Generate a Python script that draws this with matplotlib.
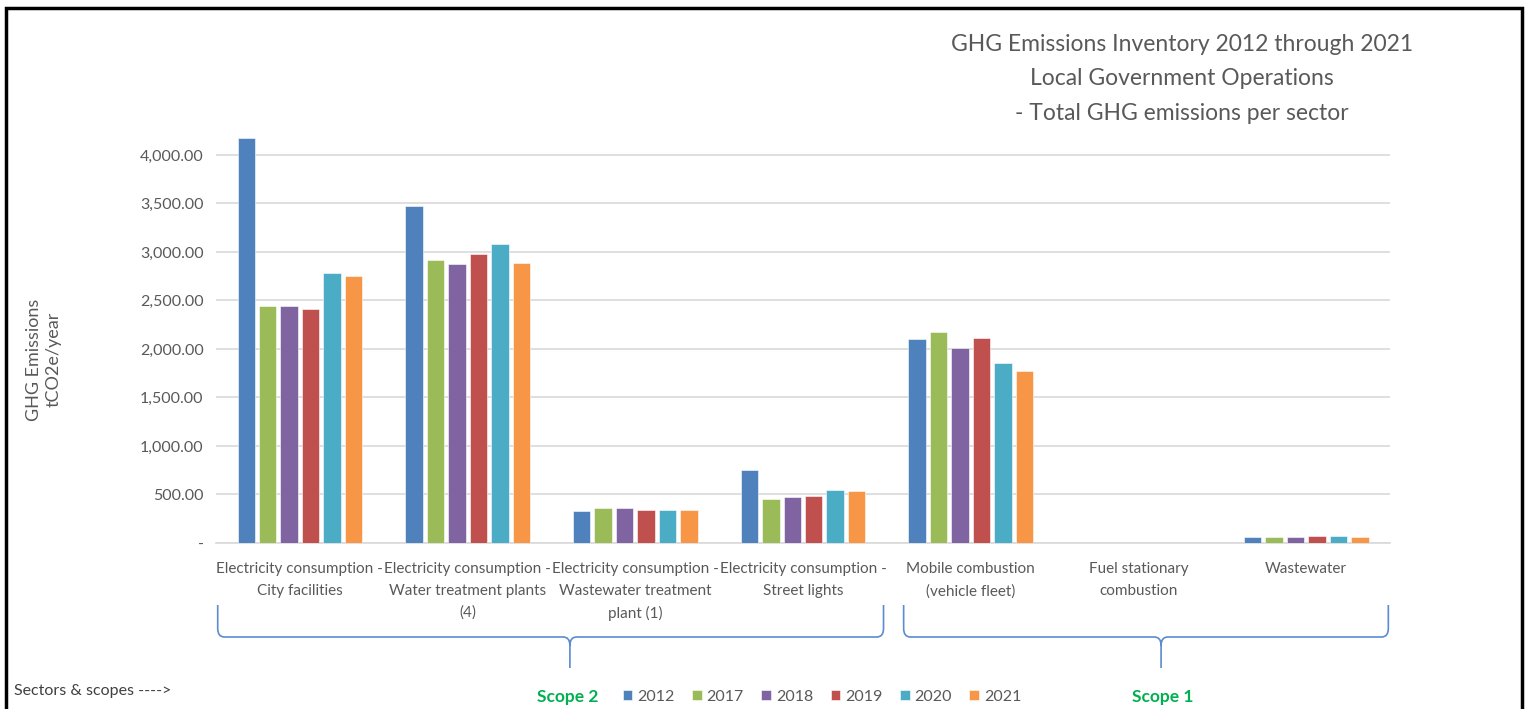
"""
GHG emissions per sector, local government operations (2012-2021)
"""
import numpy as np
import matplotlib
matplotlib.use("Agg")
import matplotlib.pyplot as plt
from matplotlib.path import Path
from matplotlib.patches import PathPatch, Rectangle
from matplotlib.ticker import FuncFormatter
import matplotlib.transforms as mtransforms

plt.rcParams['font.family'] = ['Lato', 'DejaVu Sans']

# ------------------------------------------------------------
# data (tCO2e/year)
# ------------------------------------------------------------
sectors = [
    "Electricity consumption -\nCity facilities",
    "Electricity consumption -\nWater treatment plants\n(4)",
    "Electricity consumption -\nWastewater treatment\nplant (1)",
    "Electricity consumption -\nStreet lights",
    "Mobile combustion\n(vehicle fleet)",
    "Fuel stationary\ncombustion",
    "Wastewater",
]
years = ["2012", "2017", "2018", "2019", "2020", "2021"]

y2012 = [4175, 3474, 330, 753, 2103, 0, 60]
y2017 = [2443, 2918, 361, 454, 2175, 0, 60]
y2018 = [2443, 2876, 361, 474, 2010, 0, 58]
y2019 = [2412, 2980, 340, 485, 2113, 0, 70]
y2020 = [2783, 3083, 340, 546, 1856, 0, 70]
y2021 = [2753, 2887, 340, 536, 1773, 0, 58]
series = [y2012, y2017, y2018, y2019, y2020, y2021]

colors = ["#4F81BD", "#9BBB59", "#8064A2", "#C0504D", "#4BACC6", "#F79646"]
text_gray = "#595959"
brace_blue = "#5B8BD0"
scope_green = "#00B050"

# ------------------------------------------------------------
# figure
# ------------------------------------------------------------
fig = plt.figure(figsize=(15.3, 7.09), dpi=100)
ax = fig.add_axes([0.1412, 0.2342, 0.9085 - 0.1412, 0.8498 - 0.2342])

x = np.arange(len(sectors))
slot = 0.128
width = 0.104
for i, (vals, yr, c) in enumerate(zip(series, years, colors)):
    offs = (i - (len(series) - 1) / 2) * slot
    ax.bar(x + offs, vals, width, color=c, label=yr,
           edgecolor="white", linewidth=0.4, zorder=3)

ax.set_xlim(-0.5, len(sectors) - 0.5)
ax.set_ylim(0, 4500)
ax.set_yticks(np.arange(0, 4001, 500))
ax.yaxis.set_major_formatter(FuncFormatter(lambda v, p: "-" if v == 0 else f"{v:,.2f}"))
ax.grid(axis="y", color="#D9D9D9", linewidth=1.2, zorder=0)
ax.set_axisbelow(True)
for s in ["top", "right", "left"]:
    ax.spines[s].set_visible(False)
ax.spines["bottom"].set_color("#D9D9D9")
ax.spines["bottom"].set_linewidth(1.2)
ax.tick_params(axis="both", length=0, colors=text_gray, labelsize=11.5)
ax.tick_params(axis="y", pad=9)
ax.tick_params(axis="x", pad=14)
ax.set_xticks(x)
ax.set_xticklabels(sectors, color=text_gray, fontsize=11, linespacing=1.68, va="top")

ax.set_ylabel("GHG Emissions\ntCO2e/year", color=text_gray, fontsize=13,
              linespacing=1.2)
ax.yaxis.set_label_coords(-0.132, 0.42)

# title
fig.text(0.7725, 0.952, "GHG Emissions Inventory 2012 through 2021\nLocal Government Operations\n- Total GHG emissions per sector",
         ha="center", va="top", color=text_gray, fontsize=16.5, linespacing=1.78)

# braces under the category labels
trans = mtransforms.blended_transform_factory(ax.transData, fig.transFigure)


def brace(x0, x1, xc):
    yt, ym, yp = 1 - 605 / 709, 1 - 637 / 709, 1 - 668 / 709
    r = 0.04
    ry = 0.012
    verts = [
        (x0, yt), (x0, ym + ry),
        (x0, ym), (x0 + r, ym),
        (xc - r, ym),
        (xc, ym), (xc, ym - ry),
        (xc, yp),
        (xc, ym - ry), (xc, ym), (xc + r, ym),
        (x1 - r, ym),
        (x1, ym), (x1, ym + ry),
        (x1, yt),
    ]
    codes = [Path.MOVETO, Path.LINETO,
             Path.CURVE3, Path.CURVE3,
             Path.LINETO,
             Path.CURVE3, Path.CURVE3,
             Path.LINETO,
             Path.MOVETO, Path.CURVE3, Path.CURVE3,
             Path.LINETO,
             Path.CURVE3, Path.CURVE3,
             Path.LINETO]
    fig.add_artist(PathPatch(Path(verts, codes), transform=trans, fill=False,
                             edgecolor=brace_blue, linewidth=1.2, clip_on=False))


brace(-0.49, 3.48, 1.61)
brace(3.6, 6.49, 5.135)

# scope labels and legend row
fig.text(568 / 1530, 1 - 697 / 709, "Scope 2", ha="center", va="center",
         color=scope_green, fontsize=12.5, fontweight="bold")
fig.text(1163 / 1530, 1 - 697 / 709, "Scope 1", ha="center", va="center",
         color=scope_green, fontsize=12.5, fontweight="bold")
fig.text(14 / 1530, 1 - 691 / 709, "Sectors & scopes ---->", ha="left", va="center",
         color="#404040", fontsize=11.5)

handles, labels = ax.get_legend_handles_labels()
fig.legend(handles, labels, loc="center", bbox_to_anchor=(822 / 1530, 1 - 697 / 709),
           ncol=6, frameon=False, fontsize=11.5, handlelength=0.6, handleheight=0.6,
           handletextpad=0.3, columnspacing=1.1, labelcolor=text_gray)

# outer frame
fig.add_artist(Rectangle((6 / 1530, -0.05), 1516 / 1530, 1.05 - 8 / 709,
                         transform=fig.transFigure, fill=False,
                         edgecolor="black", linewidth=2.5, clip_on=False))

fig.savefig("out.png", dpi=100)
plt.close(fig)
